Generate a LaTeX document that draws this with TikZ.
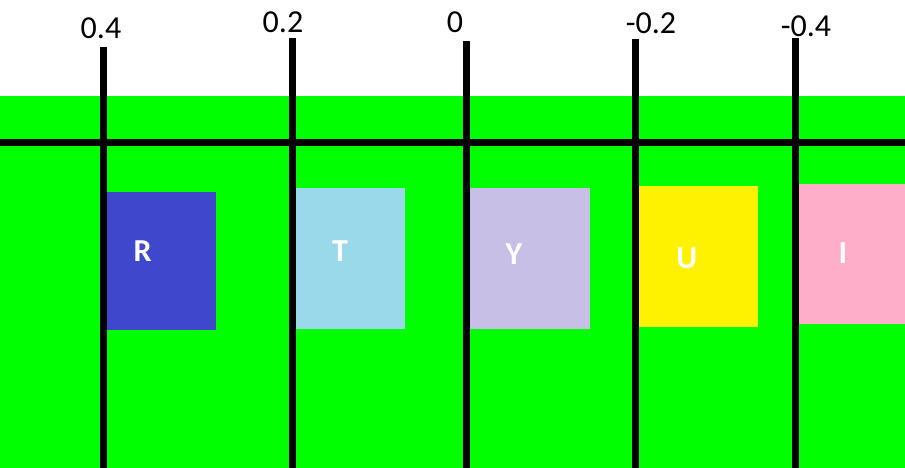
\documentclass[tikz,border=0pt]{standalone}
\usepackage{fontspec}
\setmainfont{Carlito}
\usepackage{tikz}
\definecolor{bandgreen}{HTML}{00FF00}
\definecolor{colR}{HTML}{3F48CC}
\definecolor{colT}{HTML}{99D9EA}
\definecolor{colY}{HTML}{C8BFE7}
\definecolor{colU}{HTML}{FFF200}
\definecolor{colI}{HTML}{FFAEC9}
\tikzstyle{slot} = [rectangle, draw=none, inner sep=0pt]
\tikzstyle{letter} = [text=white, inner sep=0pt, font=\fontsize{32}{34}\selectfont\bfseries]
\tikzstyle{ticklabel} = [text=black, inner sep=0pt, font=\fontsize{32}{34}\selectfont]
\tikzstyle{rule} = [line width=7pt, black]

\begin{document}
\begin{tikzpicture}[x=1pt, y=-1pt]
                \useasboundingbox (0,0) rectangle (905,468);
                \fill[bandgreen] (0,96) rectangle (905,468);
                % coloured slots
                \node[slot, fill=colR, minimum width=109, minimum height=138] (boxR) at (161.5,261) {};
                \node[slot, fill=colT, minimum width=109, minimum height=141] (boxT) at (350.5,258.5) {};
                \node[slot, fill=colY, minimum width=120, minimum height=141] (boxY) at (530,258.5) {};
                \node[slot, fill=colU, minimum width=119, minimum height=141] (boxU) at (698.5,256.5) {};
                \node[slot, fill=colI, minimum width=106, minimum height=140] (boxI) at (852,254) {};
                \node[letter] (R) at (142.7,251) {R};
                \node[letter] (T) at (340,250.7) {T};
                \node[letter] (Y) at (514,253.7) {Y};
                \node[letter] (U) at (686.7,258) {U};
                \node[letter] (I) at (843,252.7) {I};
                % axis
                \coordinate (west) at (0,143);
                \coordinate (east) at (905,143);
                \draw[rule] (west) -- (east);
                \foreach \name/\x/\top/\lx/\ly/\txt in {a/103.5/47/101/28.5/0.4, b/292.5/38/283/22.5/0.2,
                    c/466.7/41/455/22/0, d/635.5/39/651/23/-0.2, e/795.5/38/806/26/-0.4} {
                    \coordinate (\name top) at (\x,\top);
                    \coordinate (\name bot) at (\x,468);
                    \draw[rule] (\name top) -- (\name bot);
                    \node[ticklabel] (\name lab) at (\lx,\ly) {\txt};
                }
            \end{tikzpicture}
\end{document}
